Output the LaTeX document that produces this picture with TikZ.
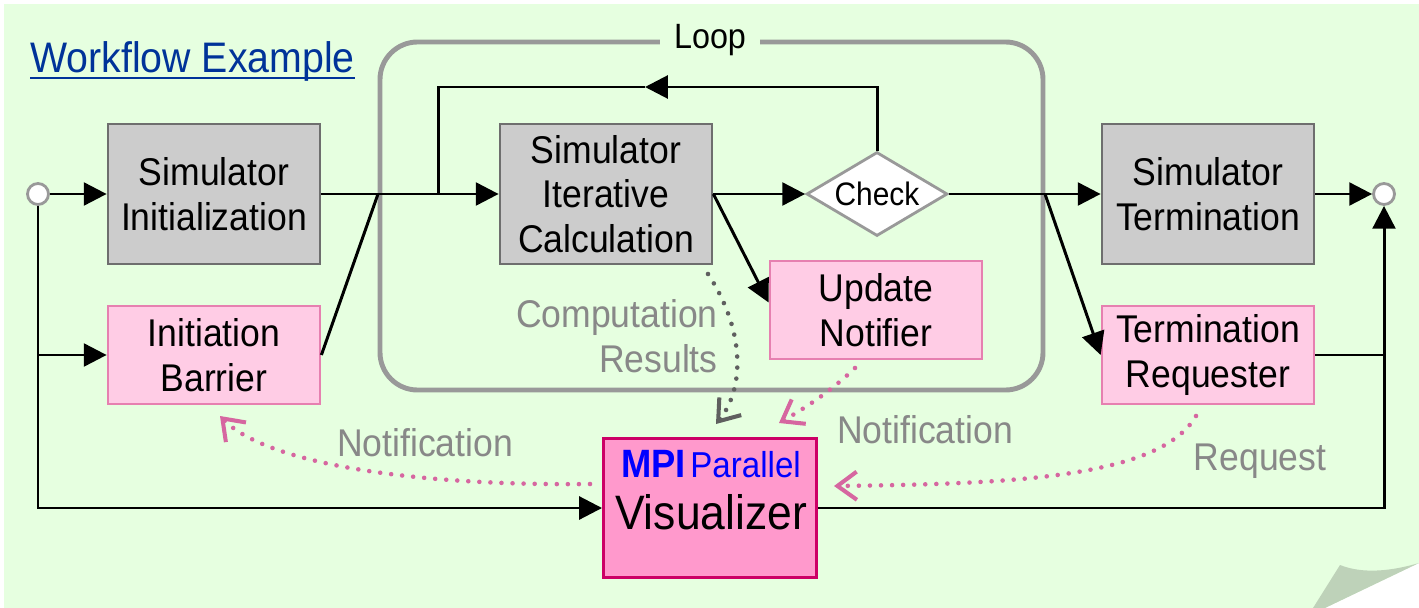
\documentclass[tikz,border=0pt]{standalone}
\usepackage{fontspec}
\setmainfont[FakeStretch=0.92]{Liberation Sans}
\usetikzlibrary{arrows.meta,shapes.geometric,calc}
\definecolor{bggreen}{RGB}{230,255,224}
\definecolor{boxgray}{RGB}{204,204,204}
\definecolor{boxgrayline}{RGB}{110,110,110}
\definecolor{pinkfill}{RGB}{255,204,229}
\definecolor{pinkline}{RGB}{230,128,176}
\definecolor{visfill}{RGB}{255,153,204}
\definecolor{visline}{RGB}{204,0,102}
\definecolor{loopgray}{RGB}{153,153,153}
\definecolor{labelgray}{RGB}{136,136,136}
\definecolor{dotpink}{RGB}{214,102,160}
\definecolor{dotgray}{RGB}{95,95,95}
\definecolor{titleblue}{RGB}{0,51,153}
\definecolor{curlgreen}{RGB}{190,210,185}
\newcommand\boxfont{\fontsize{22}{25.5}\selectfont}
\tikzset{
  gbox/.style={draw=boxgrayline, fill=boxgray, line width=1.6pt, inner sep=0pt,
    minimum width=4.24cm, minimum height=2.8cm, align=center, font=\boxfont},
  pbox/.style={draw=pinkline, fill=pinkfill, line width=1.6pt, inner sep=0pt,
    minimum width=4.24cm, minimum height=1.96cm, align=center, font=\boxfont},
  term/.style={circle, draw=loopgray, fill=white, line width=1.6pt, inner sep=0pt,
    minimum size=0.42cm},
  conn/.style={line width=1.7pt, black},
  arr/.style={conn, -{Triangle[length=13pt,width=13pt]}},
  dots/.style={line width=2.6pt, line cap=round, dash pattern=on 0pt off 6.3pt},
  vtip/.style={-{Straight Barb[length=11pt,width=16pt,line width=2.3pt]}},
  pdots/.style={dots, dotpink, vtip},
  gdots/.style={dots, dotgray, vtip},
  glabel/.style={text=labelgray, font=\boxfont, inner sep=0pt, align=right},
}
\begin{document}
\begin{tikzpicture}[x=0.02cm, y=-0.02cm]
\useasboundingbox (0,0) rectangle (1419,608);
\fill[white] (0,0) rectangle (1419,608);
\fill[bggreen] (4,4) rectangle (1419,608);
% page curl
\fill[white] (1325,608) -- (1419,563) -- (1419,608) -- cycle;
\fill[curlgreen] (1313,608) -- (1340,565) .. controls (1365,575) and (1395,570) .. (1419,563) -- (1325,608) -- cycle;

% title
\node[anchor=base west, text=titleblue, inner sep=0pt, font=\fontsize{24.3}{28}\selectfont] (title) at (30,72) {Workflow Example};
\draw[titleblue, line width=1.7pt] ($(title.base west)+(0,6)$) -- ($(title.base east)+(0,6)$);

% loop frame
\draw[loopgray, line width=2.8pt, rounded corners=0.75cm] (380,42) rectangle (1043,390);
\node[fill=bggreen, inner xsep=8pt, inner ysep=1pt, font=\fontsize{20}{22}\selectfont] (looplabel) at (710,40) {Loop};

% nodes
\node[term] (start) at (38,194) {};
\node[term] (end) at (1384,194) {};
\node[gbox] (init) at (214,194) {Simulator\\Initialization};
\node[pbox] (barrier) at (214,355) {Initiation\\Barrier};
\node[gbox] (iter) at (606,194) {Simulator\\Iterative\\Calculation};
\node[diamond, draw=loopgray, fill=white, line width=1.6pt, inner sep=0pt,
  minimum width=2.82cm, minimum height=1.68cm] (check) at (877,194) {};
\node[inner sep=0pt, font=\fontsize{18.5}{20}\selectfont] (checktext) at (check.center) {Check};
\node[pbox] (notifier) at (876,310) {Update\\Notifier};
\node[gbox] (termin) at (1208,194) {Simulator\\Termination};
\node[pbox] (req) at (1208,355) {Termination\\Requester};
\node[draw=visline, fill=visfill, line width=1.7pt, minimum width=4.26cm, minimum height=2.8cm] (vis) at (710,508) {};
\node[inner sep=0pt, text=blue] (mpitext) at (711,464) {{\fontsize{22.5}{24}\selectfont\bfseries MPI} {\fontsize{20.5}{24}\selectfont Parallel}};
\node[inner sep=0pt] (vistext) at (711,512) {\fontsize{27.5}{30}\selectfont Visualizer};

% labels
\node[glabel, anchor=east] (complbl) at (718,336) {Computation\\Results};
\node[glabel] (notlbl1) at (425,443) {Notification};
\node[glabel] (notlbl2) at (925,430) {Notification};
\node[glabel] (reqlbl) at (1260,461) {Request};

% coordinates
\coordinate (j1) at (378,194);
\coordinate (lb) at (438,194);
\coordinate (tm) at (645,87);
\coordinate (j2) at (1045,194);
\coordinate (jb) at (start |- barrier);

% connectors
\draw[arr] (start) -- (init);
\draw[arr] (start.south) |- (vis.west);
\draw[arr] (jb) -- (barrier.west);
\draw[conn] (init.east) -- (j1);
\draw[conn] (barrier.east) -- (j1);
\draw[arr] (j1) -- (iter.west);
\draw[arr] (check.north) |- (tm);
\draw[conn] (tm) -| (lb);
\draw[arr] (iter.east) -- (check.west);
\draw[arr] (iter.east) -- (notifier.176);
\draw[arr] (check.east) -- (termin.west);
\draw[arr] (j2) -- (req.west);
\draw[arr] (termin.east) -- (end);
\draw[conn] (req.east) -- (req.east -| end);
\draw[arr] (vis.east) -| (end.south);

% dotted notifications
\coordinate (cr0) at (708,274);
\coordinate (cr1) at (716,424);
\coordinate (nt0) at (855,368);
\coordinate (nt1) at (779,423);
\coordinate (bt0) at (590,484);
\coordinate (bt1) at (220,416);
\coordinate (rq0) at (1196,416);
\coordinate (rq1) at (834,486);
\draw[gdots] (cr0) .. controls (745,330) and (745,388) .. (cr1);
\draw[pdots] (nt0) .. controls (830,392) and (805,408) .. (nt1);
\draw[pdots] (bt0) .. controls (420,486) and (268,465) .. (bt1);
\draw[pdots] (rq0) .. controls (1160,478) and (1010,484) .. (rq1);
\end{tikzpicture}
\end{document}
